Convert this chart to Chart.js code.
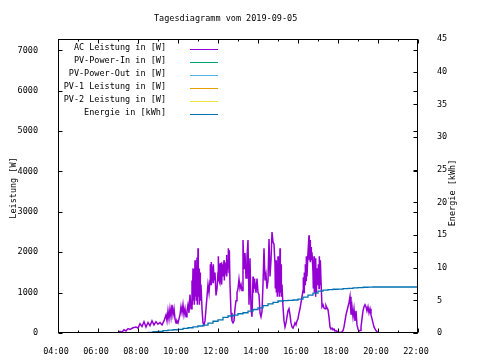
<!DOCTYPE html>
<html><head><meta charset="utf-8">
<script src="https://cdn.jsdelivr.net/npm/chart.js@4"></script>
<style>html,body{margin:0;padding:0;background:#fff}</style>
</head><body>
<canvas id="c" width="480" height="360"></canvas>
<script>
const chartTitle = "Tagesdiagramm vom 2019-09-05";
const yTitle = "Leistung [W]";
const y2Title = "Energie [kWh]";
const seriesNames = ["AC Leistung in [W]","PV-Power-In in [W]","PV-Power-Out in [W]","PV-1 Leistung in [W]","PV-2 Leistung in [W]","Energie in [kWh]"];
const seriesColors = ["#9400d3","#009e73","#56b4e9","#e69f00","#f0e442","#0072b2"];
const xTickHours = [4,6,8,10,12,14,16,18,20,22];
const yTicksW = [0,1000,2000,3000,4000,5000,6000,7000];
const y2TicksKWh = [0,5,10,15,20,25,30,35,40,45];

const acTimes = [
"07:00","07:06","07:12","07:18","07:24","07:30","07:36","07:45","07:54","08:00",
"08:06","08:12","08:18","08:24","08:30","08:36","08:42","08:48","08:54","09:00",
"09:06","09:12","09:18","09:24","09:27","09:30","09:33","09:36","09:39","09:42",
"09:45","09:48","09:51","09:54","09:57","10:00","10:06","10:09","10:12","10:15",
"10:18","10:21","10:24","10:27","10:30","10:33","10:36","10:39","10:42","10:43",
"10:45","10:46","10:48","10:49","10:51","10:52","10:54","10:55","10:57","10:58",
"11:00","11:01","11:03","11:04","11:06","11:07","11:09","11:12","11:15","11:18",
"11:21","11:24","11:27","11:30","11:33","11:36","11:37","11:39","11:40","11:42",
"11:43","11:45","11:46","11:48","11:51","11:54","11:57","12:00","12:01","12:03",
"12:04","12:06","12:07","12:09","12:10","12:12","12:13","12:15","12:18","12:19",
"12:21","12:24","12:25","12:27","12:30","12:31","12:33","12:34","12:36","12:39",
"12:42","12:45","12:48","12:51","12:54","12:57","13:00","13:03","13:06","13:09",
"13:12","13:15","13:18","13:21","13:24","13:27","13:30","13:33","13:36","13:39",
"13:42","13:45","13:46","13:48","13:49","13:51","13:54","13:57","14:00","14:03",
"14:06","14:09","14:12","14:15","14:18","14:21","14:24","14:27","14:30","14:33",
"14:36","14:39","14:42","14:45","14:48","14:51","14:52","14:54","14:55","14:57",
"14:58","15:00","15:01","15:03","15:04","15:06","15:07","15:09","15:10","15:12",
"15:15","15:18","15:21","15:24","15:27","15:30","15:33","15:36","15:39","15:42",
"15:45","15:48","15:51","15:54","15:57","16:00","16:03","16:06","16:09","16:12",
"16:15","16:16","16:18","16:19","16:21","16:22","16:24","16:25","16:27","16:30",
"16:33","16:34","16:36","16:37","16:39","16:40","16:42","16:45","16:46","16:48",
"16:49","16:51","16:52","16:54","16:55","16:57","17:00","17:01","17:03","17:04",
"17:06","17:07","17:09","17:12","17:15","17:18","17:21","17:24","17:27","17:30",
"17:33","17:36","17:39","17:42","17:45","17:48","17:51","17:54","17:57","18:00",
"18:03","18:06","18:09","18:12","18:15","18:18","18:21","18:24","18:27","18:30",
"18:33","18:36","18:39","18:42","18:45","18:48","18:51","18:54","18:57","19:00",
"19:03","19:06","19:09","19:12","19:15","19:18","19:21","19:24","19:27","19:30",
"19:33","19:36","19:39","19:42","19:45","19:48","19:51","19:54","19:57","20:00",
"20:03","20:06"];
const acValues = [
0,40,20,80,50,110,90,130,150,120,
230,160,280,150,260,180,300,200,280,220,
260,200,300,450,300,550,350,600,400,700,
450,600,350,250,300,250,450,650,500,700,
450,600,400,550,700,500,950,600,1300,700,
1600,800,1500,700,1800,900,1400,800,1870,700,
2100,900,1600,700,1500,800,1200,600,250,200,
300,600,900,1200,1000,1300,1700,1200,1760,1300,
1650,1250,1700,1300,1500,930,1100,1500,1900,1300,
1700,1250,1730,1300,1750,1200,1700,1400,1800,1300,
1750,1500,1930,1400,1800,2100,1500,2050,1200,500,
300,250,300,600,800,1000,1100,1330,1100,1200,
1050,2300,1600,1980,1360,1900,2300,700,1850,600,
400,1400,1000,1350,1100,1300,1000,1350,1000,950,
500,400,530,1200,2100,1300,1450,1100,1300,2330,
1400,1800,2500,2250,2200,1700,1100,1800,1000,1600,
900,1900,1000,1750,900,2100,1000,1700,900,1200,
650,300,150,250,400,550,600,450,250,150,
120,180,250,200,300,350,500,600,750,900,
1050,1380,1000,1500,1200,1700,1300,1900,1400,2000,
2420,1800,2300,1750,2130,1800,2000,1500,1100,1900,
1000,1700,900,1850,1000,1600,1200,1700,1100,1900,
1200,1800,1300,650,700,620,600,680,620,580,
400,150,100,120,80,100,50,60,30,20,
10,20,10,30,60,150,300,450,550,650,
750,900,450,650,400,600,300,550,200,100,
50,60,150,350,550,650,700,650,550,650,
500,600,450,350,250,150,100,60,30,20,
10,0];

const energyTimes = ["08:15","08:30","08:45","09:00","09:15","09:30","09:45","10:00","10:15","10:30",
"10:45","11:00","11:15","11:30","11:45","12:00","12:15","12:30","12:45","13:00",
"13:15","13:30","13:45","14:00","14:15","14:30","14:45","15:00","15:15","15:30",
"15:45","16:00","16:15","16:30","16:45","17:00","17:15","17:30","17:45","18:00",
"18:15","18:30","18:45","19:00","19:15","19:30","19:45","20:00","22:00"];
const energyValues = [0,0.05,0.1,0.2,0.25,0.35,0.45,0.5,0.55,0.7,
0.8,0.95,1.07,1.2,1.5,1.8,2.0,2.4,2.6,2.75,
2.95,3.1,3.35,3.6,3.85,4.2,4.45,4.7,4.9,4.95,
5.0,5.05,5.2,5.5,5.8,6.1,6.4,6.55,6.65,6.7,
6.72,6.8,6.84,6.9,6.95,7.0,7.02,7.04,7.04];

const pvInValues = [];
const pvOutValues = [];
const pv1Values = [];
const pv2Values = [];

const toH = t => { const p = t.split(':').map(Number); return p[0] + p[1]/60; };
const pad = n => (n < 10 ? '0' : '') + n;

const FAM = "'DejaVu Sans Mono', 'Liberation Mono', monospace";
const FS = 8.5;
const FONT = FS + "px " + FAM;

const decor = {
  id: 'decor',
  afterDatasetsDraw(chart) {
    const ctx = chart.ctx, a = chart.chartArea;
    const sx = chart.scales.x, sy = chart.scales.y, sy2 = chart.scales.y2;
    ctx.save();
    ctx.strokeStyle = '#000';
    ctx.lineWidth = 1;
    const L = Math.round(a.left) + 0.5, R = Math.round(a.right) - 0.5;
    const T = Math.round(a.top) + 0.5, B = Math.round(a.bottom) - 0.5;
    ctx.beginPath();
    for (let h = 4; h <= 22; h++) {
      const px = Math.round(sx.getPixelForValue(h)) + 0.5;
      const len = (h % 2 === 0) ? 4 : 2;
      ctx.moveTo(px, B); ctx.lineTo(px, B - len);
      ctx.moveTo(px, T); ctx.lineTo(px, T + len);
    }
    yTicksW.forEach(v => {
      const py = Math.round(sy.getPixelForValue(v)) + 0.5;
      ctx.moveTo(L, py); ctx.lineTo(L + 4, py);
      ctx.moveTo(R, py); ctx.lineTo(R - 4, py);
    });
    y2TicksKWh.forEach(v => {
      const py = Math.round(sy2.getPixelForValue(v)) + 0.5;
      ctx.moveTo(R, py); ctx.lineTo(R - 4, py);
    });
    ctx.stroke();
    ctx.strokeRect(L, T, R - L, B - T);
    ctx.restore();
  },
  afterDraw(chart) {
    const ctx = chart.ctx;
    ctx.save();
    ctx.fillStyle = '#000';
    ctx.font = FONT;
    ctx.textBaseline = 'alphabetic';
    ctx.textAlign = 'left';
    ctx.fillText(chartTitle, 154, 21);
    ctx.save();
    ctx.translate(16, 188);
    ctx.rotate(-Math.PI / 2);
    ctx.textAlign = 'center';
    ctx.fillText(yTitle, 0, 0);
    ctx.restore();
    ctx.save();
    ctx.translate(455, 193);
    ctx.rotate(-Math.PI / 2);
    ctx.textAlign = 'center';
    ctx.fillText(y2Title, 0, 0);
    ctx.restore();
    ctx.textAlign = 'right';
    seriesNames.forEach((n, i) => {
      const yb = 50 + 13 * i;
      ctx.fillStyle = '#000';
      ctx.fillText(n, 166, yb);
      ctx.strokeStyle = seriesColors[i];
      ctx.lineWidth = 1;
      ctx.beginPath();
      ctx.moveTo(190, yb - 0.5);
      ctx.lineTo(218, yb - 0.5);
      ctx.stroke();
    });
    ctx.restore();
  }
};

const mk = (times, vals) => times.map((t, i) => ({ x: toH(t), y: vals[i] }));

new Chart(document.getElementById('c'), {
  type: 'line',
  data: {
    datasets: [
      { label: seriesNames[0], data: mk(acTimes, acValues), borderColor: seriesColors[0], borderWidth: 1.5, pointRadius: 0, tension: 0, yAxisID: 'y', order: 5 },
      { label: seriesNames[1], data: pvInValues, borderColor: seriesColors[1], borderWidth: 1, pointRadius: 0, yAxisID: 'y', order: 4 },
      { label: seriesNames[2], data: pvOutValues, borderColor: seriesColors[2], borderWidth: 1, pointRadius: 0, yAxisID: 'y', order: 3 },
      { label: seriesNames[3], data: pv1Values, borderColor: seriesColors[3], borderWidth: 1, pointRadius: 0, yAxisID: 'y', order: 2 },
      { label: seriesNames[4], data: pv2Values, borderColor: seriesColors[4], borderWidth: 1, pointRadius: 0, yAxisID: 'y', order: 1 },
      { label: seriesNames[5], data: mk(energyTimes, energyValues), borderColor: seriesColors[5], borderWidth: 1.3, pointRadius: 0, stepped: 'after', yAxisID: 'y2', order: 0 }
    ]
  },
  options: {
    responsive: false,
    animation: false,
    events: [],
    layout: { padding: { top: 39, left: 0, right: 0, bottom: 0 } },
    plugins: { legend: { display: false }, title: { display: false }, tooltip: { enabled: false } },
    scales: {
      x: {
        type: 'linear', min: 4, max: 22,
        grid: { display: false }, border: { display: false },
        afterBuildTicks: s => { s.ticks = xTickHours.map(v => ({ value: v })); },
        afterFit: s => { s.height = 27; },
        ticks: { autoSkip: false, maxRotation: 0, padding: 6, labelOffset: -2, color: '#000',
          font: { family: FAM, size: FS }, callback: v => pad(v) + ':00' }
      },
      y: {
        type: 'linear', position: 'left', min: 0, max: 7280,
        grid: { display: false }, border: { display: false },
        afterBuildTicks: s => { s.ticks = yTicksW.map(v => ({ value: v })); },
        afterFit: s => { s.width = 58; },
        ticks: { padding: 12, color: '#000', font: { family: FAM, size: FS }, callback: v => String(v) }
      },
      y2: {
        type: 'linear', position: 'right', min: 0, max: 45,
        grid: { display: false }, border: { display: false },
        afterBuildTicks: s => { s.ticks = y2TicksKWh.map(v => ({ value: v })); },
        afterFit: s => { s.width = 62; },
        ticks: { padding: 11, color: '#000', font: { family: FAM, size: FS }, callback: v => String(v) }
      }
    }
  },
  plugins: [decor]
});
</script>
</body></html>
